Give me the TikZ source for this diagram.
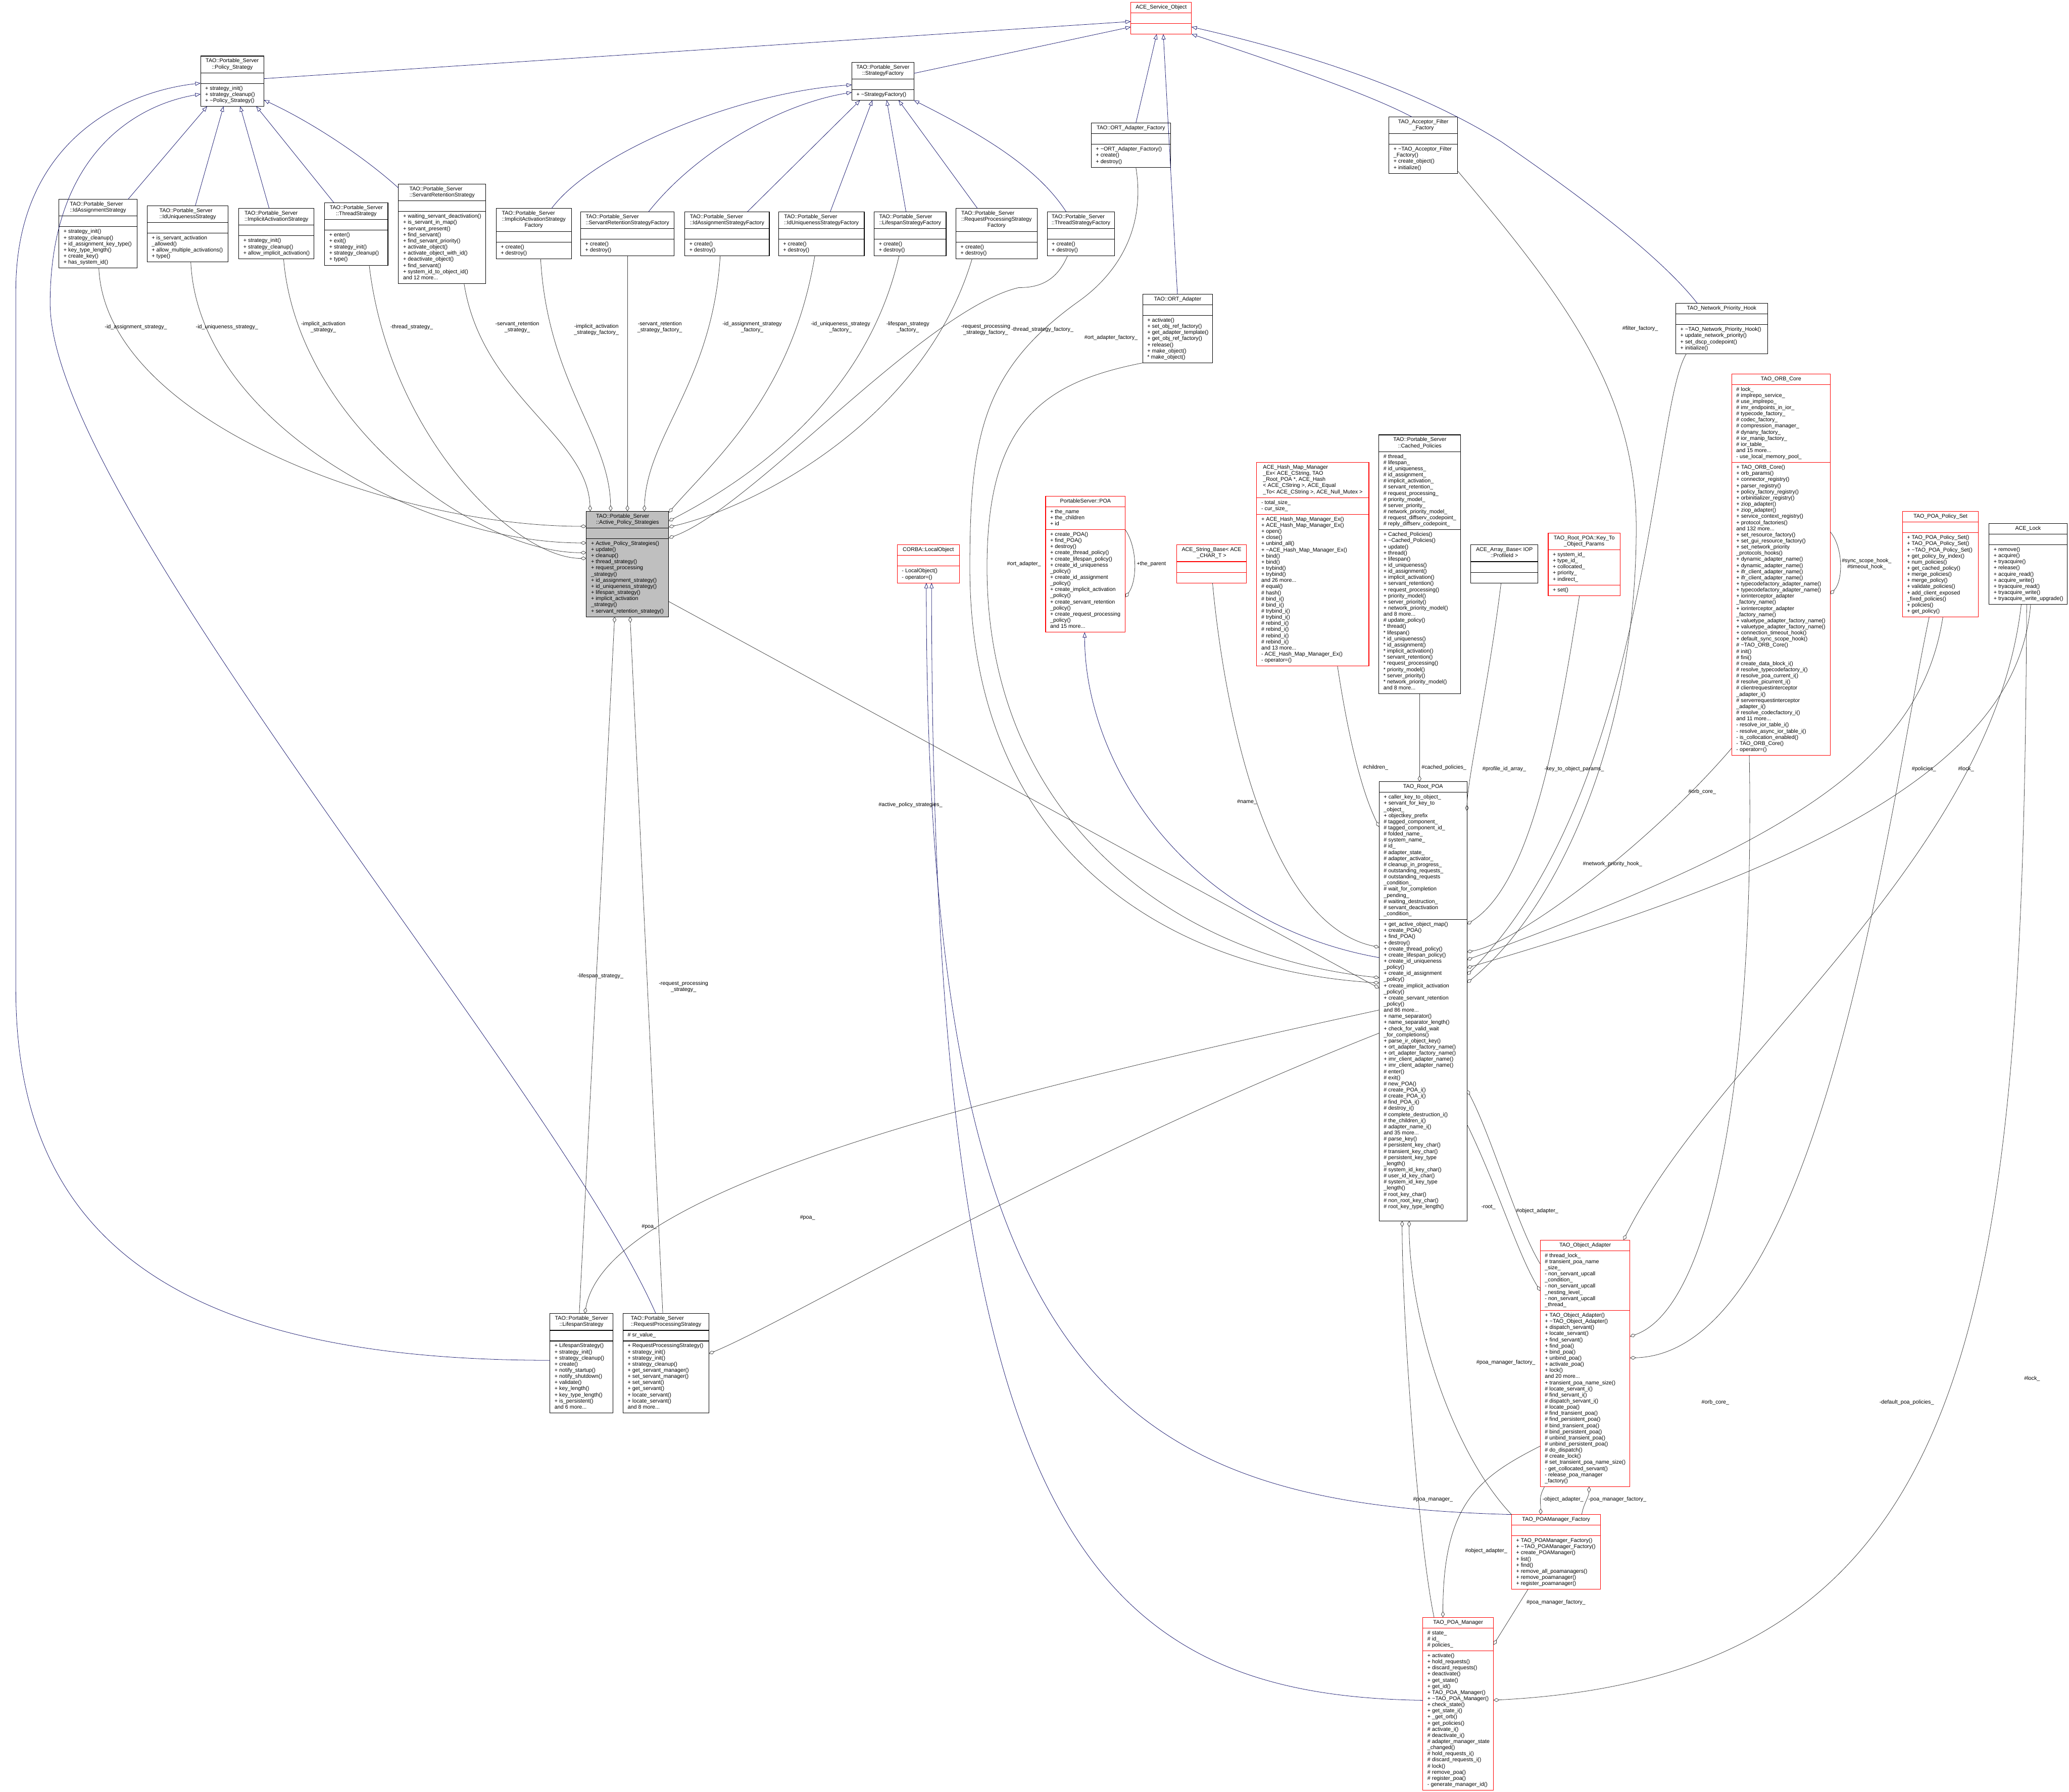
\documentclass[tikz,border=0pt]{standalone}
\usepackage{fontspec}
\setmainfont{Liberation Sans}
\usetikzlibrary{arrows.meta,calc}
\definecolor{mblue}{RGB}{25,25,112}
\definecolor{dgray}{RGB}{64,64,64}
\definecolor{pgray}{RGB}{191,191,191}
\definecolor{ured}{RGB}{255,0,0}
\newcommand\umlfont{\fontsize{4.12mm}{4.65mm}\selectfont}
\newcommand\lc[1]{\multicolumn{1}{@{}c@{}}{#1}}
\newcommand\tld{\textasciitilde}
\def\LS{4.65}\def\PD{3.4}
\tikzset{
 clsbox/.style={rectangle, inner sep=0pt, outer sep=0pt, line width=0.42mm},
 clsline/.style={line width=0.42mm},
 utxt/.style={inner sep=0pt, outer sep=0pt, font=\umlfont},
 lbl/.style={inner sep=0pt, outer sep=0pt, font=\umlfont, align=center},
 inh/.style={draw=mblue, line width=0.3mm, -{Triangle[open,length=4mm,width=3mm]}},
 comp/.style={draw=dgray, line width=0.3mm, -{Diamond[open,length=4.6mm,width=2.8mm]}},
}
% name, x, y(top), width, title lines, attr lines, method lines, colour, fill
\newcommand\umlbox[9]{%
 \pgfmathsetmacro\uha{#5*\LS+\PD}%
 \pgfmathsetmacro\uhb{max(#6,1)*\LS+\PD}%
 \pgfmathsetmacro\uhc{max(#7,1)*\LS+\PD}%
 \pgfmathsetmacro\uht{\uha+\uhb+\uhc}%
 \pgfmathsetmacro\uhab{\uha+\uhb}%
 \node[clsbox,draw=#8,fill=#9,minimum width=#4mm,minimum height=\uht mm,anchor=north west] (#1) at (#2,#3) {};%
 \coordinate (#1-s1) at ($(#1.north west)+(0,\uha)$);%
 \coordinate (#1-s2) at ($(#1.north west)+(0,\uhab)$);%
 \draw[clsline,draw=#8] (#1-s1) -- (#1-s1 -| #1.east);%
 \draw[clsline,draw=#8] (#1-s2) -- (#1-s2 -| #1.east);%
}
\newcommand\ut[2]{\node[utxt,anchor=north] (#1-t) at ($(#1.north)+(0,1.7)$) {\begin{tabular}{@{}l@{}}#2\end{tabular}};}
\newcommand\ua[2]{\node[utxt,anchor=north west] (#1-a) at ($(#1-s1)+(3.5,1.7)$) {\begin{tabular}{@{}l@{}}#2\end{tabular}};}
\newcommand\um[2]{\node[utxt,anchor=north west] (#1-m) at ($(#1-s2)+(3.5,1.7)$) {\begin{tabular}{@{}l@{}}#2\end{tabular}};}
\newcommand\lb[3]{\node[lbl] (#1) at (#2) {#3};}
\begin{document}
\catcode`\_=12
\begin{tikzpicture}[x=1mm,y=-1mm]
\fill[white] (0,0) rectangle (1568,1358);
\useasboundingbox (0,0) rectangle (1568,1358);

% ---------------- classes ----------------
\umlbox{aso}{857}{1.7}{46}{1}{0}{0}{ured}{white}
\ut{aso}{ACE_Service_Object}

\umlbox{ps}{152}{42.5}{48}{2}{0}{3}{black}{white}
\ut{ps}{TAO::Portable_Server\\\lc{::Policy_Strategy}}
\um{ps}{+ strategy_init()\\+ strategy_cleanup()\\+ \tld Policy_Strategy()}

\umlbox{sf}{645.6}{47.2}{47}{2}{0}{1}{black}{white}
\ut{sf}{TAO::Portable_Server\\\lc{::StrategyFactory}}
\um{sf}{+ \tld StrategyFactory()}

\umlbox{ias}{44.7}{151.1}{59.1}{2}{0}{6}{black}{white}
\ut{ias}{TAO::Portable_Server\\\lc{::IdAssignmentStrategy}}
\um{ias}{+ strategy_init()\\+ strategy_cleanup()\\+ id_assignment_key_type()\\+ key_type_length()\\+ create_key()\\+ has_system_id()}

\umlbox{ius}{111.5}{155.9}{61.5}{2}{0}{4}{black}{white}
\ut{ius}{TAO::Portable_Server\\\lc{::IdUniquenessStrategy}}
\um{ius}{+ is_servant_activation\\_allowed()\\+ allow_multiple_activations()\\+ type()}

\umlbox{iacs}{181}{158}{57}{2}{0}{3}{black}{white}
\ut{iacs}{TAO::Portable_Server\\\lc{::ImplicitActivationStrategy}}
\um{iacs}{+ strategy_init()\\+ strategy_cleanup()\\+ allow_implicit_activation()}

\umlbox{ts}{246}{153.6}{48}{2}{0}{5}{black}{white}
\ut{ts}{TAO::Portable_Server\\\lc{::ThreadStrategy}}
\um{ts}{+ enter()\\+ exit()\\+ strategy_init()\\+ strategy_cleanup()\\+ type()}

\umlbox{srs}{302}{139.6}{66}{2}{0}{11}{black}{white}
\ut{srs}{TAO::Portable_Server\\\lc{::ServantRetentionStrategy}}
\um{srs}{+ waiting_servant_deactivation()\\+ is_servant_in_map()\\+ servant_present()\\+ find_servant()\\+ find_servant_priority()\\+ activate_object()\\+ activate_object_with_id()\\+ deactivate_object()\\+ find_servant()\\+ system_id_to_object_id()\\and 12 more...}

\umlbox{iasf}{376}{158}{57}{3}{0}{2}{black}{white}
\ut{iasf}{TAO::Portable_Server\\::ImplicitActivationStrategy\\\lc{Factory}}
\um{iasf}{+ create()\\+ destroy()}

\umlbox{srsf}{440}{160.5}{71}{2}{0}{2}{black}{white}
\ut{srsf}{TAO::Portable_Server\\\lc{::ServantRetentionStrategyFactory}}
\um{srsf}{+ create()\\+ destroy()}

\umlbox{iadf}{519}{160.5}{64}{2}{0}{2}{black}{white}
\ut{iadf}{TAO::Portable_Server\\\lc{::IdAssignmentStrategyFactory}}
\um{iadf}{+ create()\\+ destroy()}

\umlbox{iusf}{590}{160.5}{65}{2}{0}{2}{black}{white}
\ut{iusf}{TAO::Portable_Server\\\lc{::IdUniquenessStrategyFactory}}
\um{iusf}{+ create()\\+ destroy()}

\umlbox{lsf}{662.5}{160.5}{54.5}{2}{0}{2}{black}{white}
\ut{lsf}{TAO::Portable_Server\\\lc{::LifespanStrategyFactory}}
\um{lsf}{+ create()\\+ destroy()}

\umlbox{rpsf}{724.5}{158}{61.5}{3}{0}{2}{black}{white}
\ut{rpsf}{TAO::Portable_Server\\::RequestProcessingStrategy\\\lc{Factory}}
\um{rpsf}{+ create()\\+ destroy()}

\umlbox{tsf}{793.6}{160.5}{51.2}{2}{0}{2}{black}{white}
\ut{tsf}{TAO::Portable_Server\\\lc{::ThreadStrategyFactory}}
\um{tsf}{+ create()\\+ destroy()}

\umlbox{oaf}{827}{93.3}{60}{1}{0}{3}{black}{white}
\ut{oaf}{TAO::ORT_Adapter_Factory}
\um{oaf}{+ \tld ORT_Adapter_Factory()\\+ create()\\+ destroy()}

\umlbox{aff}{1052.6}{88.6}{52}{2}{0}{4}{black}{white}
\ut{aff}{TAO_Acceptor_Filter\\\lc{_Factory}}
\um{aff}{+ \tld TAO_Acceptor_Filter\\_Factory()\\+ create_object()\\+ initialize()}

\umlbox{ort}{866}{223}{53}{1}{0}{7}{black}{white}
\ut{ort}{TAO::ORT_Adapter}
\um{ort}{+ activate()\\+ set_obj_ref_factory()\\+ get_adapter_template()\\+ get_obj_ref_factory()\\+ release()\\+ make_object()\\{}* make_object()}

\umlbox{nph}{1270}{230}{69.5}{1}{0}{4}{black}{white}
\ut{nph}{TAO_Network_Priority_Hook}
\um{nph}{+ \tld TAO_Network_Priority_Hook()\\+ update_network_priority()\\+ set_dscp_codepoint()\\+ initialize()}

\umlbox{aps}{444.4}{387.5}{62.4}{2}{0}{12}{black}{pgray}
\ut{aps}{TAO::Portable_Server\\\lc{::Active_Policy_Strategies}}
\um{aps}{+ Active_Policy_Strategies()\\+ update()\\+ cleanup()\\+ thread_strategy()\\+ request_processing\\_strategy()\\+ id_assignment_strategy()\\+ id_uniqueness_strategy()\\+ lifespan_strategy()\\+ implicit_activation\\_strategy()\\+ servant_retention_strategy()}

\umlbox{lo}{680}{413}{47}{1}{0}{2}{ured}{white}
\ut{lo}{CORBA::LocalObject}
\um{lo}{- LocalObject()\\- operator=()}

\umlbox{poa}{792.4}{376}{60.4}{1}{3}{16}{ured}{white}
\ut{poa}{PortableServer::POA}
\ua{poa}{+ the_name\\+ the_children\\+ id}
\um{poa}{+ create_POA()\\+ find_POA()\\+ destroy()\\+ create_thread_policy()\\+ create_lifespan_policy()\\+ create_id_uniqueness\\_policy()\\+ create_id_assignment\\_policy()\\+ create_implicit_activation\\_policy()\\+ create_servant_retention\\_policy()\\+ create_request_processing\\_policy()\\and 15 more...}

\umlbox{sb}{891.8}{413}{52.8}{2}{0}{0}{ured}{white}
\ut{sb}{ACE_String_Base< ACE\\\lc{_CHAR_T >}}

\umlbox{hm}{952.4}{350.5}{85}{5}{2}{24}{ured}{white}
\ut{hm}{ACE_Hash_Map_Manager\\_Ex< ACE_CString, TAO\\_Root_POA *, ACE_Hash\\< ACE_CString >, ACE_Equal\\\lc{_To< ACE_CString >, ACE_Null_Mutex >}}
\ua{hm}{- total_size_\\- cur_size_}
\um{hm}{+ ACE_Hash_Map_Manager_Ex()\\+ ACE_Hash_Map_Manager_Ex()\\+ open()\\+ close()\\+ unbind_all()\\+ \tld ACE_Hash_Map_Manager_Ex()\\+ bind()\\+ bind()\\+ trybind()\\+ trybind()\\and 26 more...\\\# equal()\\\# hash()\\\# bind_i()\\\# bind_i()\\\# trybind_i()\\\# trybind_i()\\\# rebind_i()\\\# rebind_i()\\\# rebind_i()\\\# rebind_i()\\and 13 more...\\- ACE_Hash_Map_Manager_Ex()\\- operator=()}

\umlbox{cp}{1045}{329.6}{62}{2}{12}{26}{black}{white}
\ut{cp}{TAO::Portable_Server\\\lc{::Cached_Policies}}
\ua{cp}{\# thread_\\\# lifespan_\\\# id_uniqueness_\\\# id_assignment_\\\# implicit_activation_\\\# servant_retention_\\\# request_processing_\\\# priority_model_\\\# server_priority_\\\# network_priority_model_\\\# request_diffserv_codepoint_\\\# reply_diffserv_codepoint_}
\um{cp}{+ Cached_Policies()\\+ \tld Cached_Policies()\\+ update()\\+ thread()\\+ lifespan()\\+ id_uniqueness()\\+ id_assignment()\\+ implicit_activation()\\+ servant_retention()\\+ request_processing()\\+ priority_model()\\+ server_priority()\\+ network_priority_model()\\and 8 more...\\\# update_policy()\\{}* thread()\\{}* lifespan()\\{}* id_uniqueness()\\{}* id_assignment()\\{}* implicit_activation()\\{}* servant_retention()\\{}* request_processing()\\{}* priority_model()\\{}* server_priority()\\{}* network_priority_model()\\and 8 more...}

\umlbox{ab}{1114.7}{413}{50.7}{2}{0}{0}{black}{white}
\ut{ab}{ACE_Array_Base< IOP\\\lc{::ProfileId >}}

\umlbox{kto}{1173.3}{404}{54.5}{2}{5}{1}{ured}{white}
\ut{kto}{TAO_Root_POA::Key_To\\\lc{_Object_Params}}
\ua{kto}{+ system_id_\\+ type_id_\\+ collocated_\\+ priority_\\+ indirect_}
\um{kto}{+ set()}

\umlbox{orb}{1312.4}{283.3}{74.6}{1}{12}{47}{ured}{white}
\ut{orb}{TAO_ORB_Core}
\ua{orb}{\# lock_\\\# implrepo_service_\\\# use_implrepo_\\\# imr_endpoints_in_ior_\\\# typecode_factory_\\\# codec_factory_\\\# compression_manager_\\\# dynany_factory_\\\# ior_manip_factory_\\\# ior_table_\\and 15 more...\\- use_local_memory_pool_}
\um{orb}{+ TAO_ORB_Core()\\+ orb_params()\\+ connector_registry()\\+ parser_registry()\\+ policy_factory_registry()\\+ orbinitializer_registry()\\+ ziop_adapter()\\+ ziop_adapter()\\+ service_context_registry()\\+ protocol_factories()\\and 132 more...\\+ set_resource_factory()\\+ set_gui_resource_factory()\\+ set_network_priority\\_protocols_hooks()\\+ dynamic_adapter_name()\\+ dynamic_adapter_name()\\+ ifr_client_adapter_name()\\+ ifr_client_adapter_name()\\+ typecodefactory_adapter_name()\\+ typecodefactory_adapter_name()\\+ iorinterceptor_adapter\\_factory_name()\\+ iorinterceptor_adapter\\_factory_name()\\+ valuetype_adapter_factory_name()\\+ valuetype_adapter_factory_name()\\+ connection_timeout_hook()\\+ default_sync_scope_hook()\\\# \tld TAO_ORB_Core()\\\# init()\\\# fini()\\\# create_data_block_i()\\\# resolve_typecodefactory_i()\\\# resolve_poa_current_i()\\\# resolve_picurrent_i()\\\# clientrequestinterceptor\\_adapter_i()\\\# serverrequestinterceptor\\_adapter_i()\\\# resolve_codecfactory_i()\\and 11 more...\\- resolve_ior_table_i()\\- resolve_async_ior_table_i()\\- is_collocation_enabled()\\- TAO_ORB_Core()\\- operator=()}

\umlbox{pps}{1441.7}{387.7}{57.7}{1}{0}{13}{ured}{white}
\ut{pps}{TAO_POA_Policy_Set}
\um{pps}{+ TAO_POA_Policy_Set()\\+ TAO_POA_Policy_Set()\\+ \tld TAO_POA_Policy_Set()\\+ get_policy_by_index()\\+ num_policies()\\+ get_cached_policy()\\+ merge_policies()\\+ merge_policy()\\+ validate_policies()\\+ add_client_exposed\\_fixed_policies()\\+ policies()\\+ get_policy()}

\umlbox{lock}{1507.4}{396.8}{59.1}{1}{0}{9}{black}{white}
\ut{lock}{ACE_Lock}
\um{lock}{+ remove()\\+ acquire()\\+ tryacquire()\\+ release()\\+ acquire_read()\\+ acquire_write()\\+ tryacquire_read()\\+ tryacquire_write()\\+ tryacquire_write_upgrade()}

\umlbox{rpoa}{1045.2}{592.5}{66.5}{1}{20}{48.4}{black}{white}
\ut{rpoa}{TAO_Root_POA}
\ua{rpoa}{+ caller_key_to_object_\\+ servant_for_key_to\\_object_\\+ objectkey_prefix\\\# tagged_component_\\\# tagged_component_id_\\\# folded_name_\\\# system_name_\\\# id_\\\# adapter_state_\\\# adapter_activator_\\\# cleanup_in_progress_\\\# outstanding_requests_\\\# outstanding_requests\\_condition_\\\# wait_for_completion\\_pending_\\\# waiting_destruction_\\\# servant_deactivation\\_condition_}
\um{rpoa}{+ get_active_object_map()\\+ create_POA()\\+ find_POA()\\+ destroy()\\+ create_thread_policy()\\+ create_lifespan_policy()\\+ create_id_uniqueness\\_policy()\\+ create_id_assignment\\_policy()\\+ create_implicit_activation\\_policy()\\+ create_servant_retention\\_policy()\\and 86 more...\\+ name_separator()\\+ name_separator_length()\\+ check_for_valid_wait\\_for_completions()\\+ parse_ir_object_key()\\+ ort_adapter_factory_name()\\+ ort_adapter_factory_name()\\+ imr_client_adapter_name()\\+ imr_client_adapter_name()\\\# enter()\\\# exit()\\\# new_POA()\\\# create_POA_i()\\\# create_POA_i()\\\# find_POA_i()\\\# destroy_i()\\\# complete_destruction_i()\\\# the_children_i()\\\# adapter_name_i()\\and 35 more...\\\# parse_key()\\\# persistent_key_char()\\\# transient_key_char()\\\# persistent_key_type\\_length()\\\# system_id_key_char()\\\# user_id_key_char()\\\# system_id_key_type\\_length()\\\# root_key_char()\\\# non_root_key_char()\\\# root_key_type_length()}

\umlbox{toa}{1167.3}{939.9}{68}{1}{9}{28}{ured}{white}
\ut{toa}{TAO_Object_Adapter}
\ua{toa}{\# thread_lock_\\\# transient_poa_name\\_size_\\- non_servant_upcall\\_condition_\\- non_servant_upcall\\_nesting_level_\\- non_servant_upcall\\_thread_}
\um{toa}{+ TAO_Object_Adapter()\\+ \tld TAO_Object_Adapter()\\+ dispatch_servant()\\+ locate_servant()\\+ find_servant()\\+ find_poa()\\+ bind_poa()\\+ unbind_poa()\\+ activate_poa()\\+ lock()\\and 20 more...\\+ transient_poa_name_size()\\\# locate_servant_i()\\\# find_servant_i()\\\# dispatch_servant_i()\\\# locate_poa()\\\# find_transient_poa()\\\# find_persistent_poa()\\\# bind_transient_poa()\\\# bind_persistent_poa()\\\# unbind_transient_poa()\\\# unbind_persistent_poa()\\\# do_dispatch()\\\# create_lock()\\\# set_transient_poa_name_size()\\- get_collocated_servant()\\- release_poa_manager\\_factory()}

\umlbox{pmf}{1145.5}{1147.9}{67.5}{1}{0}{8}{ured}{white}
\ut{pmf}{TAO_POAManager_Factory}
\um{pmf}{+ TAO_POAManager_Factory()\\+ \tld TAO_POAManager_Factory()\\+ create_POAManager()\\+ list()\\+ find()\\+ remove_all_poamanagers()\\+ remove_poamanager()\\+ register_poamanager()}

\umlbox{pm}{1078.3}{1225.8}{53.5}{1}{3}{22}{ured}{white}
\ut{pm}{TAO_POA_Manager}
\ua{pm}{\# state_\\\# id_\\\# policies_}
\um{pm}{+ activate()\\+ hold_requests()\\+ discard_requests()\\+ deactivate()\\+ get_state()\\+ get_id()\\+ TAO_POA_Manager()\\+ \tld TAO_POA_Manager()\\+ check_state()\\+ get_state_i()\\+ _get_orb()\\+ get_policies()\\\# activate_i()\\\# deactivate_i()\\\# adapter_manager_state\\_changed()\\\# hold_requests_i()\\\# discard_requests_i()\\\# lock()\\\# remove_poa()\\\# register_poa()\\- generate_manager_id()}

\umlbox{lss}{416.8}{995.6}{47.7}{2}{0}{11}{black}{white}
\ut{lss}{TAO::Portable_Server\\\lc{::LifespanStrategy}}
\um{lss}{+ LifespanStrategy()\\+ strategy_init()\\+ strategy_cleanup()\\+ create()\\+ notify_startup()\\+ notify_shutdown()\\+ validate()\\+ key_length()\\+ key_type_length()\\+ is_persistent()\\and 6 more...}

\umlbox{rps}{472.2}{995.6}{65.1}{2}{1}{11}{black}{white}
\ut{rps}{TAO::Portable_Server\\\lc{::RequestProcessingStrategy}}
\ua{rps}{\# sr_value_}
\um{rps}{+ RequestProcessingStrategy()\\+ strategy_init()\\+ strategy_init()\\+ strategy_cleanup()\\+ get_servant_manager()\\+ set_servant_manager()\\+ set_servant()\\+ get_servant()\\+ locate_servant()\\+ locate_servant()\\and 8 more...}

% ---------------- inheritance ----------------
\draw[inh] (ps.east |- 0,59.6) -- (aso.west |- 0,16.3);
\draw[inh] (sf.east |- 0,55.6) -- (aso.west |- 0,20.4);
\draw[inh] (97,0 |- ias.north) -- (157,0 |- ps.south);
\draw[inh] (148,0 |- ius.north) -- (169.4,0 |- ps.south);
\draw[inh] (204,0 |- iacs.north) -- (182,0 |- ps.south);
\draw[inh] (253,0 |- ts.north) -- (194.2,0 |- ps.south);
\draw[inh] (srs.west |- 0,142.5) .. controls (275,118) and (235,92) .. (ps.east |- 0,75.8);
\draw[inh] (418,0 |- iasf.north) .. controls (450,115) and (560,70) .. (sf.west |- 0,64.3);
\draw[inh] (491.5,0 |- srsf.north) .. controls (530,112) and (595,78) .. (sf.west |- 0,70);
\draw[inh] (566.4,0 |- iadf.north) -- (651.8,0 |- sf.south);
\draw[inh] (629.2,0 |- iusf.north) -- (661.1,0 |- sf.south);
\draw[inh] (686.6,0 |- lsf.north) -- (672,0 |- sf.south);
\draw[inh] (740.8,0 |- rpsf.north) -- (681,0 |- sf.south);
\draw[inh] (808,0 |- tsf.north) .. controls (785,125) and (740,100) .. (sf.south east);
\draw[inh] (860.8,0 |- oaf.north) -- (876.6,0 |- aso.south);
\draw[inh] (892.3,0 |- ort.north) -- (881.6,0 |- aso.south);
\draw[inh] (1070,0 |- aff.north) .. controls (1035,70) and (960,45) .. (aso.south east);
\draw[inh] (1286.4,0 |- nph.north) .. controls (1255,190) and (1185,140) .. (1138,107.6) .. controls (1070,65) and (980,38) .. (aso.east |- 0,20.4);
\draw[inh] (rpoa.west |- 0,725.8) .. controls (900,700) and (822,580) .. (822,0 |- poa.south);
\draw[inh] (pm.west |- 0,1288.7) .. controls (820,1285) and (706,1150) .. (706,0 |- lo.south);
\draw[inh] (pmf.north west) .. controls (850,1140) and (702,1050) .. (702,0 |- lo.south);
\draw[inh] (lss.west |- 0,1031) .. controls (150,1031) and (12,950) .. (12,750) -- (12,220) .. controls (12,110) and (90,70) .. (ps.west |- 0,63);
\draw[inh] (497,0 |- rps.north) .. controls (420,820) and (38,380) .. (38,230) .. controls (38,120) and (100,80) .. (ps.west |- 0,71.3);

% ---------------- composition ----------------
\draw[comp] (74.9,0 |- ias.south) .. controls (80,320) and (300,398.9) .. (aps.west |- 0,398.9);
\draw[comp] (144.6,0 |- ius.south) .. controls (150,320) and (320,411.5) .. (aps.west |- 0,411.5);
\draw[comp] (214.9,0 |- iacs.south) .. controls (225,320) and (360,418.9) .. (aps.west |- 0,418.9);
\draw[comp] (279.8,0 |- ts.south) .. controls (295,330) and (390,423.2) .. (aps.west |- 0,423.2);
\draw[comp] (351.7,0 |- srs.south) .. controls (365,300) and (445,330) .. (447.3,0 |- aps.north);
\draw[comp] (409.7,0 |- iasf.south) .. controls (415,290) and (462,330) .. (462.8,0 |- aps.north);
\draw[comp] (475.5,0 |- srsf.south) -- (475.5,0 |- aps.north);
\draw[comp] (545.8,0 |- iadf.south) .. controls (540,290) and (490,330) .. (488.3,0 |- aps.north);
\draw[comp] (617.5,0 |- iusf.south) .. controls (600,300) and (540,350) .. (aps.east |- 0,388.5);
\draw[comp] (681.3,0 |- lsf.south) .. controls (655,310) and (555,370) .. (aps.east |- 0,394.9);
\draw[comp] (736.7,0 |- rpsf.south) .. controls (700,320) and (570,385) .. (aps.east |- 0,399.5);
\draw[comp] (809,0 |- tsf.south) .. controls (800,215) and (785,218) .. (772,218) .. controls (700,235) and (570,385) .. (aps.east |- 0,407.8);
\draw[comp] (439,0 |- lss.north) -- (465.8,0 |- aps.south);
\draw[comp] (502.3,0 |- rps.north) -- (477.5,0 |- aps.south);

\draw[comp] (860.8,0 |- oaf.south) .. controls (868,170) and (850,205) .. (818,228) .. controls (745,280) and (735,330) .. (735,430) .. controls (735,640) and (880,735) .. (rpoa.west |- 0,745);
\draw[comp] (ort.south west) .. controls (790,290) and (748,320) .. (748,430) .. controls (748,620) and (890,725) .. (rpoa.west |- 0,741);
\draw[comp] (aps.east |- 0,455.9) -- (rpoa.west |- 0,749);
\draw[comp] (rpoa.west |- 0,765.5) .. controls (750,830) and (460,900) .. (443.2,0 |- lss.north);
\draw[comp] (rpoa.west |- 0,783) .. controls (800,880) and (600,1000) .. (rps.east |- 0,1026);
\draw[comp] (918.9,0 |- sb.south) .. controls (928,540) and (960,700) .. (rpoa.west |- 0,718);
\draw[comp] (1013.6,0 |- hm.south) .. controls (1022,560) and (1032,600) .. (rpoa.west |- 0,626.8);
\draw[comp] (1075.8,0 |- cp.south) -- (1075.8,0 |- rpoa.north);
\draw[comp] (1137.6,0 |- ab.south) .. controls (1128,520) and (1112,590) .. (rpoa.east |- 0,614.7);
\draw[comp] (1197,0 |- kto.south) .. controls (1180,560) and (1160,670) .. (rpoa.east |- 0,700.5);
\draw[comp] (orb.west |- 0,567) .. controls (1250,640) and (1150,715) .. (rpoa.east |- 0,721.5);
\draw[comp] (1472.4,0 |- pps.south) .. controls (1455,580) and (1350,640) .. (rpoa.east |- 0,727.5);
\draw[comp] (1538.9,0 |- lock.south) .. controls (1530,570) and (1400,650) .. (rpoa.east |- 0,733.5);
\draw[comp] (1278,0 |- nph.south) .. controls (1252,310) and (1250,600) .. (rpoa.east |- 0,739);
\draw[comp] (aff.east |- 0,129.5) .. controls (1190,230) and (1240,300) .. (1240,400) .. controls (1240,560) and (1180,690) .. (rpoa.east |- 0,745);

\draw[comp] (rpoa.east |- 0,852) .. controls (1135,900) and (1150,950) .. (toa.west |- 0,978.5);
\draw[comp] (toa.west |- 0,958) .. controls (1150,930) and (1130,860) .. (rpoa.east |- 0,826);
\draw[comp] (toa.west |- 0,1096) .. controls (1120,1120) and (1093.5,1140) .. (1093.5,0 |- pm.north);
\draw[comp] (1170.5,0 |- toa.south) .. controls (1166,1135) and (1167.6,1138) .. (1167.6,0 |- pmf.north);
\draw[comp] (1198.7,0 |- pmf.north) .. controls (1200,1140) and (1204,1135) .. (1204.3,0 |- toa.south);
\draw[comp] (1158,0 |- pmf.south) -- (pm.east |- 0,1246.7);
\draw[comp] (pmf.north west) .. controls (1100,1100) and (1068,1000) .. (1067.9,0 |- rpoa.south);
\draw[comp] (1086.8,0 |- pm.north) .. controls (1075,1170) and (1062.6,1000) .. (1062.6,0 |- rpoa.south);
\draw[comp] (1325.7,0 |- orb.south) .. controls (1330,800) and (1300,990) .. (toa.east |- 0,1013);
\draw[comp] (1462,0 |- pps.south) .. controls (1430,620) and (1380,1025) .. (toa.east |- 0,1029.2);
\draw[comp] (1531.8,0 |- lock.south) .. controls (1510,650) and (1300,800) .. (1230.3,0 |- toa.north);
\draw[comp] (1535.9,0 |- lock.south) .. controls (1533,1000) and (1500,1270) .. (pm.east |- 0,1288.6);

\draw[comp] (poa.east |- 0,401.5) .. controls (862,415) and (862,440) .. (poa.east |- 0,452.7);
\draw[comp] (orb.east |- 0,403) .. controls (1397,415) and (1397,440) .. (orb.east |- 0,450.4);

% ---------------- labels ----------------
\lb{l1}{103,248}{-id_assignment_strategy_}
\lb{l2}{172,248}{-id_uniqueness_strategy_}
\lb{l3}{245,248}{-implicit_activation\\_strategy_}
\lb{l4}{312,248}{-thread_strategy_}
\lb{l5}{392,248}{-servant_retention\\_strategy_}
\lb{l6}{452,250}{-implicit_activation\\_strategy_factory_}
\lb{l7}{500,248}{-servant_retention\\_strategy_factory_}
\lb{l8}{570,248}{-id_assignment_strategy\\_factory_}
\lb{l9}{637,248}{-id_uniqueness_strategy\\_factory_}
\lb{l10}{688,248}{-lifespan_strategy\\_factory_}
\lb{l11}{747,250}{-request_processing\\_strategy_factory_}
\lb{l12}{790,250}{-thread_strategy_factory_}
\lb{l13}{842,256}{\#ort_adapter_factory_}
\lb{l14}{455,740}{-lifespan_strategy_}
\lb{l15}{518,748}{-request_processing\\_strategy_}
\lb{l16}{492,930}{\#poa_}
\lb{l17}{612,923}{\#poa_}
\lb{l18}{690,610}{\#active_policy_strategies_}
\lb{l19}{776,427.4}{\#ort_adapter_}
\lb{l20}{872.5,427.4}{+the_parent}
\lb{l21}{945,608}{\#name_}
\lb{l22}{1042.5,581.6}{\#children_}
\lb{l23}{1094.3,581.6}{\#cached_policies_}
\lb{l24}{1140,583}{\#profile_id_array_}
\lb{l25}{1193,583}{-key_to_object_params_}
\lb{l26}{1290,600}{\#orb_core_}
\lb{l27}{1458,583}{\#policies_}
\lb{l28}{1490,583}{\#lock_}
\lb{l29}{1222,655}{\#network_priority_hook_}
\lb{l30}{1243,249}{\#filter_factory_}
\lb{l31}{1414.6,427.4}{\#sync_scope_hook_\\\#timeout_hook_}
\lb{l32}{1128,915}{-root_}
\lb{l33}{1165,918}{\#object_adapter_}
\lb{l34}{1300,1063}{\#orb_core_}
\lb{l35}{1445,1063}{-default_poa_policies_}
\lb{l36}{1540,1045}{\#lock_}
\lb{l37}{1141.2,1032.7}{\#poa_manager_factory_}
\lb{l38}{1086,1136.5}{\#poa_manager_}
\lb{l39}{1184.5,1136.5}{-object_adapter_}
\lb{l40}{1225.7,1136.5}{-poa_manager_factory_}
\lb{l41}{1126.3,1175.5}{\#object_adapter_}
\lb{l42}{1179.2,1214.7}{\#poa_manager_factory_}
\end{tikzpicture}
\end{document}
